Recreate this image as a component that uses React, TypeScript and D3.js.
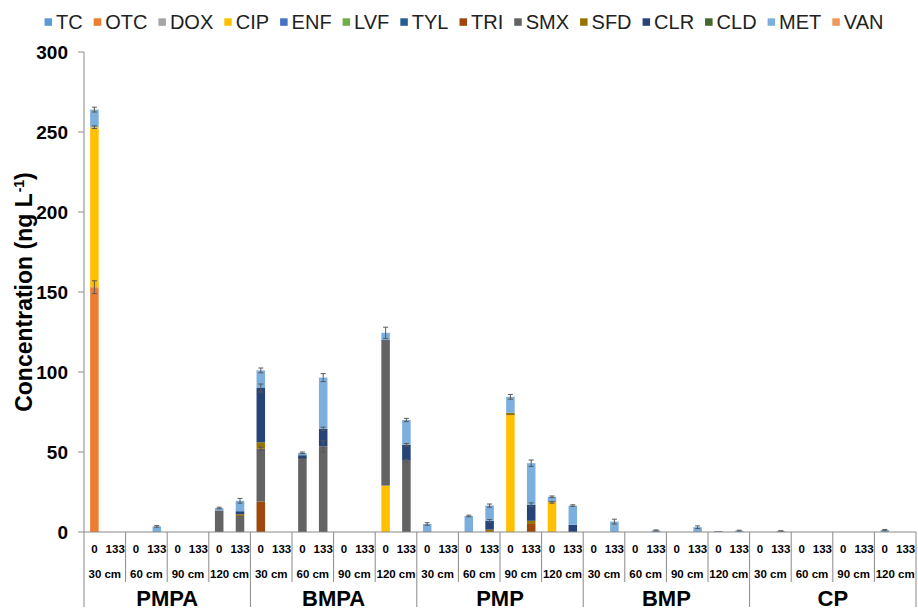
import React, { useEffect, useRef } from 'react';
import * as d3 from 'd3';

const groups = ['PMPA', 'BMPA', 'PMP', 'BMP', 'CP'];
const depths = ['30 cm', '60 cm', '90 cm', '120 cm'];
const days = ['0', '133'];

const seriesNames = ['TC', 'OTC', 'DOX', 'CIP', 'ENF', 'LVF', 'TYL', 'TRI', 'SMX', 'SFD', 'CLR', 'CLD', 'MET', 'VAN'];
const seriesColors = ['#5B9BD5', '#ED7D31', '#A5A5A5', '#FFC000', '#4472C4', '#70AD47', '#255E91',
  '#9E480E', '#636363', '#997300', '#264478', '#43682B', '#7CAFDD', '#F1975A'];

// one value per bar, bar order: group > depth > day (each line = one group)
const TC = [
  0, 0, 0, 0, 0, 0, 0, 0,
  0, 0, 0, 0, 0, 0, 0, 0,
  0, 0, 0, 0, 0, 0, 0, 0,
  0, 0, 0, 0, 0, 0, 0, 0,
  0, 0, 0, 0, 0, 0, 0, 0];
const OTC = [
  153, 0, 0, 0, 0, 0, 0, 0,
  0, 0, 0, 0, 0, 0, 0, 0,
  0, 0, 0, 0, 0, 0, 0, 0,
  0, 0, 0, 0, 0, 0, 0, 0,
  0, 0, 0, 0, 0, 0, 0, 0];
const DOX = TC;
const CIP = [
  100, 0, 0, 0, 0, 0, 0, 0,
  0, 0, 0, 0, 0, 0, 29, 0,
  0, 0, 0, 0, 73, 0, 18.5, 0,
  0, 0, 0, 0, 0, 0, 0, 0,
  0, 0, 0, 0, 0, 0, 0, 0];
const ENF = TC;
const LVF = TC;
const TYL = TC;
const TRI = [
  0, 0, 0, 0, 0, 0, 0, 0,
  19, 0, 0, 0, 0, 0, 0, 0,
  0, 0, 0, 0, 0, 5, 0, 0,
  0, 0, 0, 0, 0, 0, 0, 0,
  0, 0, 0, 0, 0, 0, 0, 0];
const SMX = [
  0, 0, 0, 0, 0, 0, 13.5, 10,
  33, 0, 45.5, 53.5, 0, 0, 91, 44.5,
  0, 0, 0, 0, 0, 0, 0, 0,
  0, 0, 0, 0, 0, 0, 0, 0,
  0, 0, 0, 0, 0, 0, 0, 0];
const SFD = [
  0, 0, 0, 0, 0, 0, 0, 1,
  4, 0, 0, 0, 0, 0, 0, 0,
  0, 0, 0, 1.5, 1.5, 2, 0.7, 0,
  0, 0, 0, 0, 0, 0, 0, 0,
  0, 0, 0, 0, 0, 0, 0, 0];
const CLR = [
  0, 0, 0, 0, 0, 0, 0, 2,
  34, 0, 2.5, 11, 0, 0, 0, 10,
  0, 0, 0, 5.5, 0, 10, 0, 4.5,
  0, 0, 0, 0.4, 0, 0, 0.4, 0,
  0, 0, 0, 0, 0, 0, 0, 0];
const CLD = TC;
const MET = [
  11, 0, 0, 3.5, 0, 0, 1.5, 6.5,
  11, 0, 1.5, 32, 0, 0, 4.5, 15.5,
  5, 0, 10, 9.5, 10, 26, 2.8, 12,
  0, 6.5, 0, 0.6, 0, 3, 0, 0.8,
  0, 0.6, 0, 0, 0, 0, 1.2, 0];
const VAN = TC;

// error bars (± value) drawn on top of the segment
const errOTC = [
  4, 0, 0, 0, 0, 0, 0, 0,
  0, 0, 0, 0, 0, 0, 0, 0,
  0, 0, 0, 0, 0, 0, 0, 0,
  0, 0, 0, 0, 0, 0, 0, 0,
  0, 0, 0, 0, 0, 0, 0, 0];
const errCIP = [
  0.8, 0, 0, 0, 0, 0, 0, 0,
  0, 0, 0, 0, 0, 0, 0, 0,
  0, 0, 0, 0, 0, 0, 0.5, 0,
  0, 0, 0, 0, 0, 0, 0, 0,
  0, 0, 0, 0, 0, 0, 0, 0];
const errSMX = [
  0, 0, 0, 0, 0, 0, 0, 0,
  1, 0, 0.5, 3.5, 0, 0, 0, 1,
  0, 0, 0, 0, 0, 0, 0, 0,
  0, 0, 0, 0, 0, 0, 0, 0,
  0, 0, 0, 0, 0, 0, 0, 0];
const errCLR = [
  0, 0, 0, 0, 0, 0, 0, 0,
  2.5, 0, 0, 1, 0, 0, 0, 0.8,
  0, 0, 0, 0.8, 0, 1.2, 0, 0,
  0, 0, 0, 0, 0, 0, 0, 0,
  0, 0, 0, 0, 0, 0, 0, 0];
const errMET = [
  1.5, 0, 0, 0.5, 0, 0, 0.5, 1.5,
  1.5, 0, 0.5, 2.5, 0, 0, 3.5, 1,
  0.8, 0, 0.5, 1, 1.5, 2, 0.5, 0.5,
  0, 1.5, 0, 0.3, 0, 0.8, 0, 0.3,
  0, 0.2, 0, 0, 0, 0, 0.4, 0];

const yTicks = [0, 50, 100, 150, 200, 250, 300];

const seriesValues = [TC, OTC, DOX, CIP, ENF, LVF, TYL, TRI, SMX, SFD, CLR, CLD, MET, VAN];
const errorsBySeries: Record<string, number[]> = { OTC: errOTC, CIP: errCIP, SMX: errSMX, CLR: errCLR, MET: errMET };

const W = 918;
const H = 611;
const FONT = 'Liberation Sans, Arial, sans-serif';

export default function App() {
  const ref = useRef<SVGSVGElement>(null);

  useEffect(() => {
    const svg = d3.select(ref.current);
    svg.selectAll('*').remove();

    const left = 84, right = 916, top = 52, bottom = 532;

    const barIds: string[] = [];
    groups.forEach(g => depths.forEach(d => days.forEach(k => barIds.push(`${g}|${d}|${k}`))));

    const rows = barIds.map((id, i) => {
      const r: any = { id };
      seriesNames.forEach((s, j) => { r[s] = seriesValues[j][i]; });
      return r;
    });

    const x = d3.scaleBand<string>().domain(barIds).range([left, right])
      .paddingInner(0.59).paddingOuter(0.295);
    const y = d3.scaleLinear().domain([0, 300]).range([bottom, top]);
    const color = d3.scaleOrdinal<string, string>().domain(seriesNames).range(seriesColors);

    const stacked = d3.stack().keys(seriesNames)(rows as any);

    // bars
    svg.append('g').selectAll('g')
      .data(stacked)
      .join('g')
      .attr('fill', d => color(d.key))
      .selectAll('rect')
      .data(d => d.filter(p => p[1] - p[0] > 0))
      .join('rect')
      .attr('x', p => x((p.data as any).id)!)
      .attr('width', x.bandwidth())
      .attr('y', p => y(p[1]))
      .attr('height', p => y(p[0]) - y(p[1]));

    // error bars
    const eg = svg.append('g').attr('stroke', '#595959').attr('stroke-width', 1).attr('fill', 'none');
    stacked.forEach(layer => {
      const errs = errorsBySeries[layer.key];
      if (!errs) return;
      layer.forEach((p, i) => {
        const e = errs[i];
        if (!e || p[1] - p[0] <= 0) return;
        const cx = x(barIds[i])! + x.bandwidth() / 2;
        const y1 = y(p[1] + e), y2 = y(p[1] - e);
        eg.append('line').attr('x1', cx).attr('x2', cx).attr('y1', y1).attr('y2', y2);
        eg.append('line').attr('x1', cx - 2.5).attr('x2', cx + 2.5).attr('y1', y1).attr('y2', y1);
        eg.append('line').attr('x1', cx - 2.5).attr('x2', cx + 2.5).attr('y1', y2).attr('y2', y2);
      });
    });

    const axisColor = '#898989';

    // y axis
    const ya = svg.append('g');
    ya.append('line').attr('x1', left).attr('x2', left).attr('y1', top).attr('y2', 607)
      .attr('stroke', axisColor);
    ya.selectAll('line.tick').data(yTicks).join('line').attr('class', 'tick')
      .attr('x1', left - 6).attr('x2', left).attr('y1', d => y(d)).attr('y2', d => y(d))
      .attr('stroke', axisColor);
    ya.selectAll('text').data(yTicks).join('text')
      .attr('x', 68).attr('y', d => y(d)).attr('dy', '0.35em')
      .attr('text-anchor', 'end').attr('font-family', FONT).attr('font-weight', 'bold')
      .attr('font-size', 19).attr('fill', '#000').text(d => d);

    const title = svg.append('text')
      .attr('transform', `translate(32,${(top + bottom) / 2}) rotate(-90)`)
      .attr('text-anchor', 'middle').attr('font-family', FONT).attr('font-weight', 'bold')
      .attr('font-size', 23).attr('fill', '#000');
    title.append('tspan').text('Concentration (ng L');
    title.append('tspan').attr('font-size', 14).attr('dx', 1).attr('dy', -8).text('-1');
    title.append('tspan').attr('dy', 8).text(')');

    // x axis with hierarchical categories
    const xa = svg.append('g');
    xa.append('line').attr('x1', left).attr('x2', right).attr('y1', bottom).attr('y2', bottom)
      .attr('stroke', axisColor);
    const step = x.step();
    const depthW = step * days.length;
    const groupW = depthW * depths.length;

    groups.forEach((g, gi) => {
      const gx = left + gi * groupW;
      depths.forEach((d, di) => {
        const dx = gx + di * depthW;
        if (di > 0) {
          xa.append('line').attr('x1', dx).attr('x2', dx).attr('y1', bottom).attr('y2', 582)
            .attr('stroke', axisColor);
        }
        days.forEach(k => {
          xa.append('text').attr('x', x(`${g}|${d}|${k}`)! + x.bandwidth() / 2).attr('y', 552.5)
            .attr('text-anchor', 'middle').attr('font-family', FONT).attr('font-weight', 'bold')
            .attr('font-size', 11.5).text(k);
        });
        xa.append('text').attr('x', dx + depthW / 2).attr('y', 577.5)
          .attr('text-anchor', 'middle').attr('font-family', FONT).attr('font-weight', 'bold')
          .attr('font-size', 11.5).text(d);
      });
      xa.append('line').attr('x1', gx + groupW).attr('x2', gx + groupW).attr('y1', bottom).attr('y2', 607)
        .attr('stroke', axisColor);
      xa.append('text').attr('x', gx + groupW / 2).attr('y', 606)
        .attr('text-anchor', 'middle').attr('font-family', FONT).attr('font-weight', 'bold')
        .attr('font-size', 22).text(g);
    });

    // legend, centred, measured
    const lg = svg.append('g');
    const sq = 7.5, sqGap = 4, itemGap = 11;
    const items = seriesNames.map(s => {
      const t = lg.append('text').attr('font-family', FONT).attr('font-size', 20)
        .attr('fill', '#222').attr('y', 28.5).text(s);
      const w = (t.node() as SVGTextElement).getComputedTextLength();
      return { s, t, w };
    });
    const total = d3.sum(items, d => sq + sqGap + d.w) + itemGap * (items.length - 1);
    let cx = 464 - total / 2;
    items.forEach(it => {
      lg.append('rect').attr('x', cx).attr('y', 18.3).attr('width', sq).attr('height', sq)
        .attr('fill', color(it.s));
      it.t.attr('x', cx + sq + sqGap);
      cx += sq + sqGap + it.w + itemGap;
    });
  }, []);

  return (
    <svg ref={ref} width={W} height={H}
      style={{ position: 'absolute', left: 0, top: 0, display: 'block', background: '#fff' }} />
  );
}
